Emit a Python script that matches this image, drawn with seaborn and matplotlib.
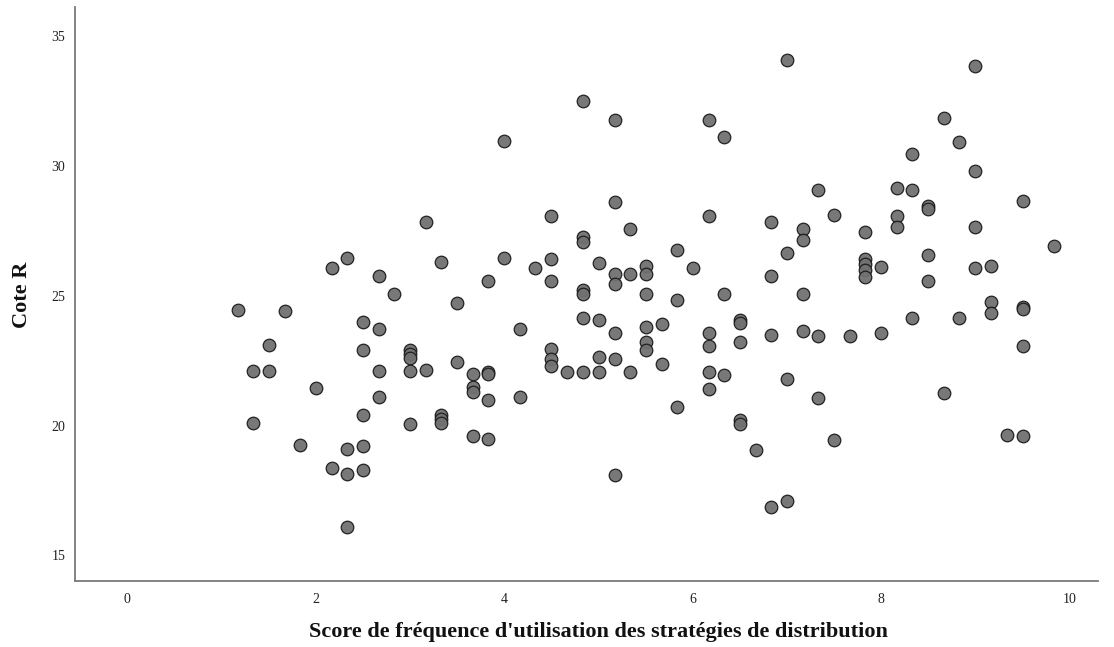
import matplotlib
matplotlib.use("Agg")
import matplotlib.pyplot as plt
import seaborn as sns
import pandas as pd

# Strategy-usage frequency score (x) and R rating (y), one entry per respondent
score = [
    1.17,
    1.33, 1.33,
    1.5, 1.5,
    1.67,
    1.83,
    2.0,
    2.17, 2.17,
    2.33, 2.33, 2.33, 2.33,
    2.5, 2.5, 2.5, 2.5, 2.5,
    2.67, 2.67, 2.67, 2.67,
    2.83,
    3.0, 3.0, 3.0, 3.0, 3.0,
    3.17, 3.17,
    3.33, 3.33, 3.33, 3.33,
    3.5, 3.5,
    3.67, 3.67, 3.67, 3.67,
    3.83, 3.83, 3.83, 3.83, 3.83,
    4.0, 4.0,
    4.17, 4.17,
    4.33,
    4.5, 4.5, 4.5, 4.5, 4.5, 4.5,
    4.67,
    4.83, 4.83, 4.83, 4.83, 4.83, 4.83, 4.83,
    5.0, 5.0, 5.0, 5.0,
    5.17, 5.17, 5.17, 5.17, 5.17, 5.17, 5.17,
    5.33, 5.33, 5.33,
    5.5, 5.5, 5.5, 5.5, 5.5, 5.5,
    5.67, 5.67,
    5.83, 5.83, 5.83,
    6.0,
    6.17, 6.17, 6.17, 6.17, 6.17, 6.17,
    6.33, 6.33, 6.33,
    6.5, 6.5, 6.5, 6.5, 6.5,
    6.67,
    6.83, 6.83, 6.83, 6.83,
    7.0, 7.0, 7.0, 7.0,
    7.17, 7.17, 7.17, 7.17,
    7.33, 7.33, 7.33,
    7.5, 7.5,
    7.67,
    7.83, 7.83, 7.83, 7.83, 7.83,
    8.0, 8.0,
    8.17, 8.17, 8.17,
    8.33, 8.33, 8.33,
    8.5, 8.5, 8.5, 8.5,
    8.67, 8.67,
    8.83, 8.83,
    9.0, 9.0, 9.0, 9.0,
    9.17, 9.17, 9.17,
    9.33,
    9.5, 9.5, 9.5, 9.5, 9.5,
    9.83,
]

cote_r = [
    24.45,
    22.1, 20.1,
    23.1, 22.1,
    24.4,
    19.25,
    21.45,
    26.05, 18.35,
    26.45, 19.1, 18.15, 16.1,
    24.0, 22.9, 20.4, 19.2, 18.3,
    25.75, 23.7, 22.1, 21.1,
    25.05,
    22.9, 22.75, 22.6, 22.1, 20.05,
    27.85, 22.15,
    26.3, 20.4, 20.25, 20.1,
    24.7, 22.45,
    22.0, 21.5, 21.3, 19.6,
    25.55, 22.05, 22.0, 21.0, 19.5,
    30.95, 26.45,
    23.7, 21.1,
    26.05,
    28.05, 26.4, 25.55, 22.95, 22.55, 22.3,
    22.05,
    32.5, 27.25, 27.05, 25.2, 25.05, 24.15, 22.05,
    26.25, 24.05, 22.65, 22.05,
    31.75, 28.6, 25.85, 25.45, 23.55, 22.55, 18.1,
    27.55, 25.85, 22.05,
    26.15, 25.85, 25.05, 23.8, 23.2, 22.9,
    23.9, 22.35,
    26.75, 24.85, 20.7,
    26.05,
    31.75, 28.05, 23.55, 23.05, 22.05, 21.4,
    31.1, 25.05, 21.95,
    24.05, 23.95, 23.2, 20.2, 20.05,
    19.05,
    27.85, 25.75, 23.5, 16.85,
    34.05, 26.65, 21.8, 17.1,
    27.55, 27.15, 25.05, 23.65,
    29.05, 23.45, 21.05,
    28.1, 19.45,
    23.45,
    27.45, 26.4, 26.2, 26.0, 25.7,
    26.1, 23.55,
    29.15, 28.05, 27.65,
    30.45, 29.05, 24.15,
    28.45, 28.35, 26.55, 25.55,
    31.85, 21.25,
    30.9, 24.15,
    33.85, 29.8, 27.65, 26.05,
    26.15, 24.75, 24.35,
    19.65,
    28.65, 24.55, 24.5, 23.05, 19.6,
    26.9,
]

x_ticks = [0, 2, 4, 6, 8, 10]
y_ticks = [15, 20, 25, 30, 35]
x_label = "Score de fréquence d'utilisation des stratégies de distribution"
y_label = "Cote R"

df = pd.DataFrame({"score": score, "cote_r": cote_r})

sns.set_theme(style="white")
plt.rcParams["font.family"] = ["Liberation Serif", "DejaVu Serif"]

fig = plt.figure(figsize=(11.14, 6.47), dpi=100)
ax = fig.add_axes([0.0673, 0.1013, 0.9183, 0.8876])

sns.scatterplot(
    data=df, x="score", y="cote_r", ax=ax,
    s=82, color="#717171", edgecolor="#1a1a1a", linewidth=0.9,
    alpha=0.95, zorder=3,
)

ax.set_xlim(-0.556, 10.3)
ax.set_ylim(14.0, 36.1)
ax.set_xticks(x_ticks)
ax.set_yticks(y_ticks)
ax.tick_params(axis="both", length=0, labelsize=10, colors="#222222")
ax.tick_params(axis="x", pad=8.5)
ax.tick_params(axis="y", pad=7)

for side in ("top", "right"):
    ax.spines[side].set_visible(False)
for side in ("left", "bottom"):
    ax.spines[side].set_color("#7a7a7a")
    ax.spines[side].set_linewidth(1.3)

ax.set_xlabel(x_label, fontsize=16, fontweight="bold", labelpad=11, color="#111111")
ax.set_ylabel(y_label, fontsize=16, fontweight="bold", labelpad=14, color="#111111")
ax.xaxis.label.set_x(0.512)

fig.savefig("out.png", dpi=100)
